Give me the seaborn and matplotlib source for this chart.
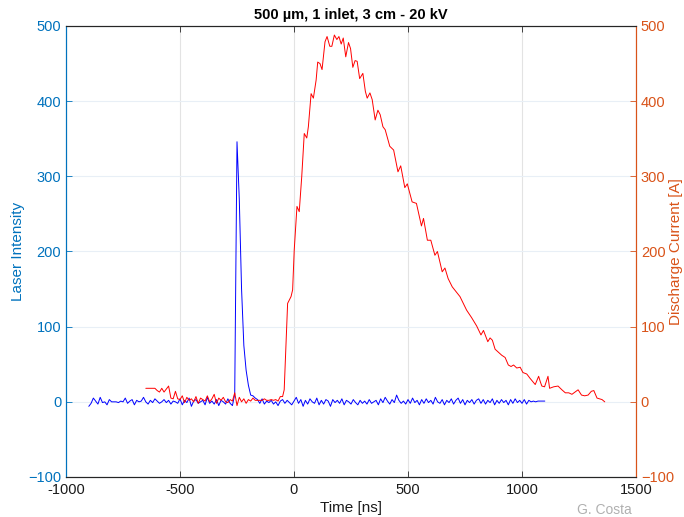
import numpy as np
import pandas as pd
import matplotlib
matplotlib.use("Agg")
import matplotlib.pyplot as plt
import seaborn as sns

# ---------------- data ----------------
laser_time = np.arange(-900, 1101, 10)
laser_values = [
    -6, -2, 5, 1, -3, 6, -1, 0, -4, 3,
    0, 0, 0, -1, 1, 0, 5, -2, 1, 3,
    -4, 2, 0, 1, 6, 0, -3, 2, -1, 4,
    1, -2, 0, 3, -1, 2, -3, 1, 0, -2,
    4, -4, 2, -1, 5, -6, 1, 3, -2, 0,
    2, -4, 6, -2, 1, -3, 3, -5, 2, 0,
    -3, 4, -2, -5, 10, 346, 270, 150, 75, 42,
    22, 9, 8, 5, 3, -2, 4, -3, 1, -1,
    2, -3, 0, -5, 1, 3, -2, 2, -1, -4,
    1, 6, -2, 3, -6, 2, -3, 4, 0, -2,
    5, -4, 2, -3, 3, 1, -6, 3, -1, 2,
    -2, 4, -4, 2, 0, -3, 3, -1, -4, 2,
    -2, 1, -3, 3, -2, 0, 2, -4, 4, -1,
    6, 1, -3, 3, -1, 9, 2, -2, 1, -3,
    3, -2, 5, -1, 2, -4, 3, -2, 4, -1,
    2, -3, 6, 0, -2, 3, -4, 2, -1, 4,
    -3, 2, 5, -2, 3, -4, 2, -1, 3, -3,
    2, 4, -2, 3, -3, 2, -1, 4, -4, 2,
    -2, 3, -1, 2, -4, 3, -2, 4, -1, 2,
    -2, 3, -3, 2, 0, 1, 0, 1, 1, 1,
    1,
]

current_time = list(range(-650, -49, 10)) + [
    -43, -28, -13, -6, 1, 13, 23, 34, 45, 56, 63, 75, 85, 97, 104, 114, 123,
    136, 145, 157, 166, 177, 188, 197, 207, 216, 227, 239, 248, 258, 268, 277,
    288, 302, 313, 321, 333, 343, 356, 368, 378, 390, 400, 420, 437, 456, 468,
    486, 497, 518, 537, 559, 568, 585, 600, 618, 629, 650, 662, 676, 694, 728,
    757, 779, 801, 820, 831, 850, 860, 870, 882, 911, 926, 940, 952, 963, 977,
    992, 1004, 1021, 1036, 1058, 1073, 1080, 1087, 1099, 1114, 1121, 1139,
    1158, 1175, 1190, 1205, 1219, 1246, 1261, 1275, 1290, 1304, 1315, 1329,
    1351, 1363]
current_values = [
    18, 18, 18, 18, 18, 15, 13, 18, 13, 17,
    21, 5, 4, 14, 4, 3, 8, -1, 6, 2,
    4, 0, 7, -2, 5, 3, 1, 8, 0, 4,
    10, -2, 5, 2, 6, 0, -1, 3, 1, 12,
    -5, 6, 0, 4, -2, 3, 1, 5, 2, 2,
    2, 2, 4, 2, 2, 3, 2, 3, 1, 7,
    7,
    16, 131, 140, 149, 202, 260, 253, 300, 357, 351, 366, 410, 404, 428, 452,
    450, 442, 479, 486, 473, 473, 488, 482, 486, 476, 484, 459, 478, 470, 445,
    454, 453, 430, 437, 413, 404, 411, 402, 375, 388, 382, 366, 362, 340, 335,
    306, 314, 285, 290, 266, 264, 234, 244, 215, 215, 195, 200, 173, 178, 164,
    153, 140, 122, 112, 101, 89, 95, 80, 85, 82, 70, 62, 59, 49, 47, 49, 45,
    46, 39, 37, 31, 23, 34, 27, 21, 20, 34, 18, 20, 21, 16, 12, 12, 10, 16, 9,
    8, 9, 14, 15, 5, 3, 0]

x_ticks = [-1000, -500, 0, 500, 1000, 1500]
y_ticks = [-100, 0, 100, 200, 300, 400, 500]

title = "500 µm, 1 inlet, 3 cm - 20 kV"

# ---------------- style ----------------
sns.set_style("white")
plt.rcParams["font.family"] = ["Liberation Sans", "DejaVu Sans"]

BLUE_AX = "#0072BD"
ORANGE_AX = "#D95319"
DARK = "#262626"

df_laser = pd.DataFrame({"t": laser_time, "v": laser_values})
df_cur = pd.DataFrame({"t": current_time, "v": current_values})

fig = plt.figure(figsize=(6.84, 5.17), dpi=100)
ax = fig.add_axes([66 / 684, 40 / 517, 570 / 684, 451 / 517])
ax2 = ax.twinx()

sns.lineplot(data=df_laser, x="t", y="v", ax=ax, color="#0000ff",
             linewidth=0.7, estimator=None, sort=False)
sns.lineplot(data=df_cur, x="t", y="v", ax=ax2, color="#ff0000",
             linewidth=0.7, estimator=None, sort=False)

for a in (ax, ax2):
    a.set_xlim(-1000, 1500)
    a.set_ylim(-100, 500)
    a.set_yticks(y_ticks)

ax.set_xticks(x_ticks)
ax.set_xticklabels([str(v) for v in x_ticks])

# grid
ax.xaxis.grid(True, color="#e3e3e3", linewidth=0.8)
ax.yaxis.grid(True, color="#e8eff6", linewidth=0.8)
ax.set_axisbelow(True)
ax2.patch.set_visible(False)

# spines
for a in (ax, ax2):
    a.spines["top"].set_color(DARK)
    a.spines["bottom"].set_color(DARK)
    a.spines["left"].set_color(BLUE_AX)
    a.spines["right"].set_color(ORANGE_AX)
    for s in a.spines.values():
        s.set_linewidth(0.8)

ax.tick_params(axis="x", direction="in", length=4, width=0.6, colors=DARK,
               labelsize=10.5, top=True, bottom=True, pad=4)
ax.tick_params(axis="y", direction="in", length=4, width=0.6,
               colors=BLUE_AX, labelsize=10.5, left=True, right=False)
ax2.tick_params(axis="y", direction="in", length=4, width=0.6,
                colors=ORANGE_AX, labelsize=10.5, left=False, right=True)
ax.tick_params(axis="x", labelcolor="#1a1a1a")

ax.set_xlabel("Time [ns]", fontsize=11, color="#1a1a1a", labelpad=3)
ax.set_ylabel("Laser Intensity", fontsize=11, color=BLUE_AX, labelpad=2)
ax2.set_ylabel("")
fig.text(669 / 684, 0.5 * (1 - 26 / 517) + 0.5 * (40 / 517),
         "Discharge Current [A]", rotation=90, ha="left", va="center",
         fontsize=11, color=ORANGE_AX)
ax.set_title(title, fontsize=10.5, fontweight="bold", color="#000000", pad=5)

fig.text(632 / 684, 1 - 510 / 517, "G. Costa", ha="right", va="center",
         fontsize=10, color="#b0b0b0")

fig.savefig("out.png", dpi=100)
